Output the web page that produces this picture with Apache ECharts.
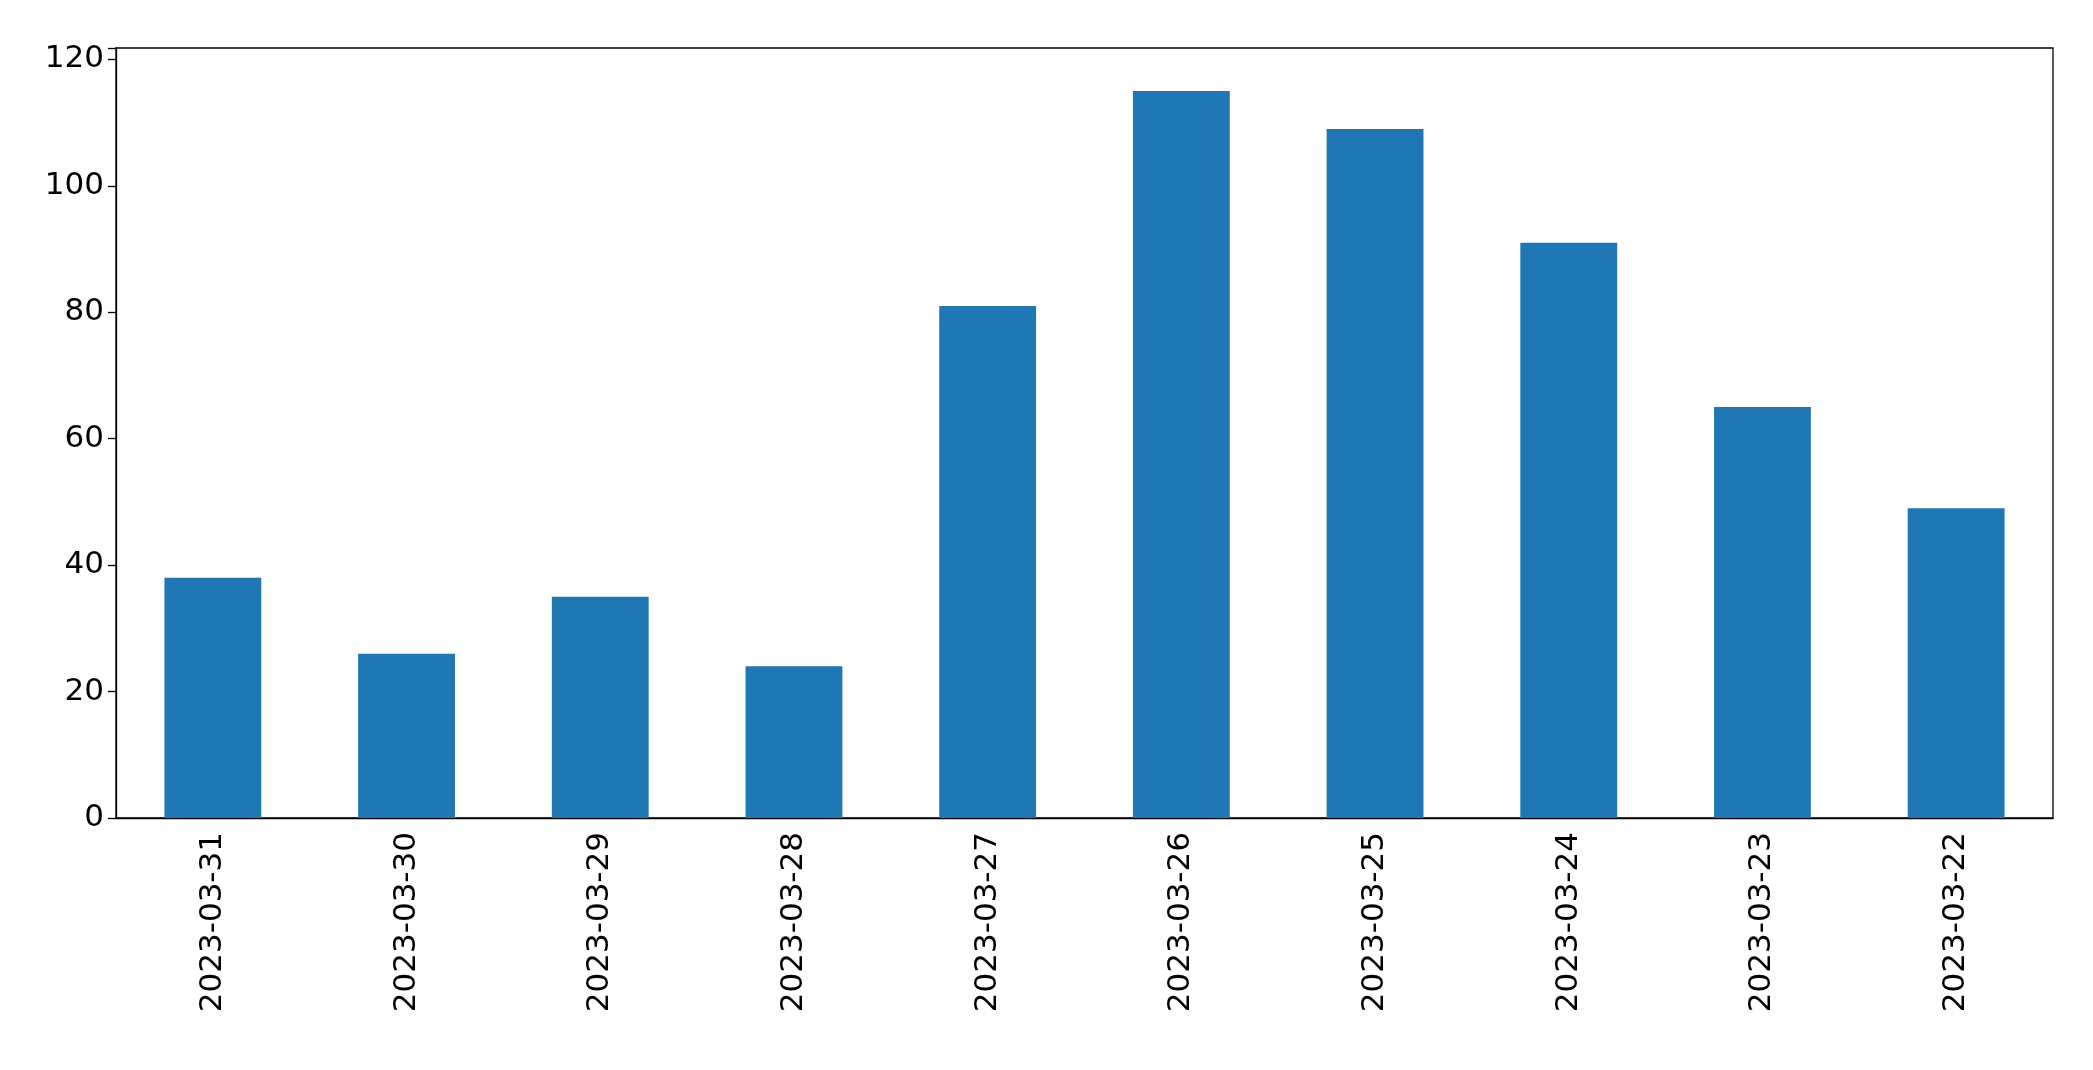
<!DOCTYPE html>
<html><head><meta charset="utf-8">
<script src="https://cdn.jsdelivr.net/npm/echarts@6/dist/echarts.min.js"></script>
<style>html,body{margin:0;padding:0;background:#fff}#c{width:2093px;height:1070px}</style>
</head><body><div id="c"></div>
<script>
const categories = ["2023-03-31","2023-03-30","2023-03-29","2023-03-28","2023-03-27","2023-03-26","2023-03-25","2023-03-24","2023-03-23","2023-03-22"];
const values = [38, 26, 35, 24, 81, 115, 109, 91, 65, 49];
const yTicks = [0, 20, 40, 60, 80, 100, 120];
const chart = echarts.init(document.getElementById('c'));
const font = {fontFamily: 'DejaVu Sans', fontSize: 31, color: '#000'};
chart.setOption({
  animation: false,
  grid: {left: 116, right: 40, top: 48, bottom: 252, show: true, borderColor: '#000', borderWidth: 1.3},
  xAxis: {
    type: 'category', data: categories,
    axisLine: {lineStyle: {color: '#000', width: 1.3}},
    axisTick: {alignWithLabel: true, length: 8, lineStyle: {color: '#000', width: 1.3}},
    axisLabel: Object.assign({rotate: 90, margin: 14, interval: 0}, font)
  },
  yAxis: {
    type: 'value', min: 0, max: 121.8, interval: 20,
    splitLine: {show: false},
    axisLine: {show: true, lineStyle: {color: '#000', width: 1.3}},
    axisTick: {show: true, length: 8, lineStyle: {color: '#000', width: 1.3}},
    axisLabel: Object.assign({margin: 12, formatter: v => yTicks.includes(v) ? String(v) : ''}, font)
  },
  series: [{type: 'bar', data: values, barWidth: '50%', itemStyle: {color: '#1f77b4'}}]
});
</script></body></html>
